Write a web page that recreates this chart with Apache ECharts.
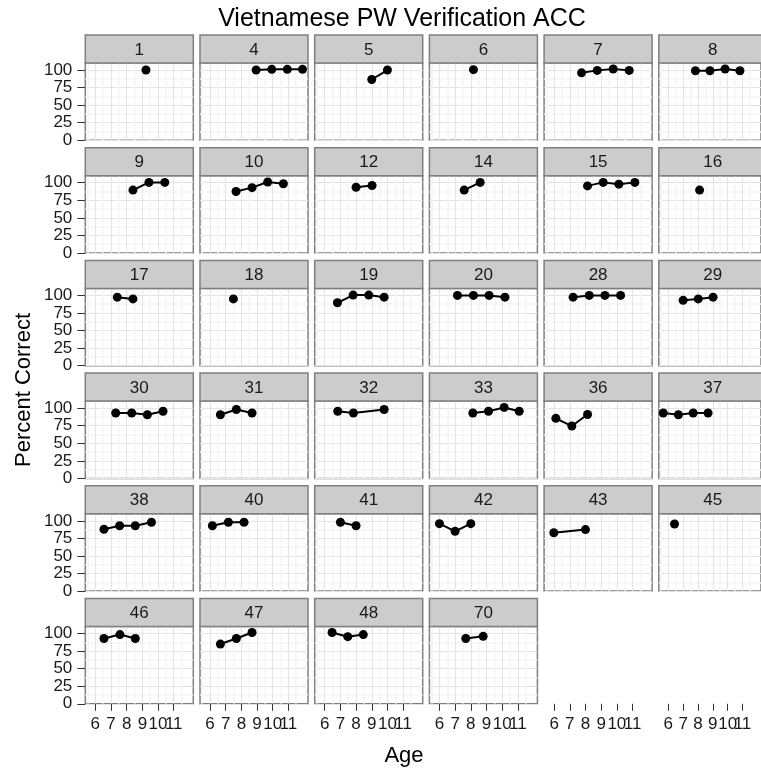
<!DOCTYPE html>
<html><head><meta charset="utf-8">
<script src="https://cdn.jsdelivr.net/npm/echarts@6/dist/echarts.min.js"></script>
<style>html,body{margin:0;padding:0;background:#fff}#c{width:761px;height:772px}</style>
</head><body><div id="c"></div>
<script>
// ---- data ----
const panelIds = ['1','4','5','6','7','8','9','10','12','14','15','16','17','18','19','20','28','29','30','31','32','33','36','37','38','40','41','42','43','45','46','47','48','70'];
const ages = [
  [9.23],
  [8.94, 9.94, 10.93, 11.90],
  [9.0, 10.0],
  [8.17],
  [7.75, 8.75, 9.77, 10.79],
  [7.83, 8.81, 9.83, 10.83],
  [8.40, 9.42, 10.43],
  [7.66, 8.68, 9.68, 10.68],
  [8.0, 9.02],
  [7.58, 8.60],
  [8.13, 9.13, 10.13, 11.15],
  [8.11],
  [7.40, 8.40],
  [7.49],
  [6.81, 7.81, 8.81, 9.79],
  [7.15, 8.17, 9.17, 10.18],
  [7.21, 8.24, 9.24, 10.24],
  [7.0, 8.02, 9.02],
  [7.30, 8.32, 9.32, 10.32],
  [6.66, 7.68, 8.68],
  [6.83, 7.83, 9.79],
  [8.13, 9.13, 10.13, 11.09],
  [6.11, 7.13, 8.13],
  [5.66, 6.68, 7.68, 8.68],
  [6.55, 7.55, 8.55, 9.58],
  [6.15, 7.17, 8.17],
  [7.0, 8.0],
  [6.0, 7.0, 8.0],
  [5.98, 8.0],
  [6.42],
  [6.55, 7.57, 8.55],
  [6.66, 7.68, 8.68],
  [6.47, 7.47, 8.46],
  [7.68, 8.79]
];
const percentCorrect = [
  [100],
  [100, 101, 101, 101],
  [86.5, 100],
  [100.5],
  [96, 99.5, 101.5, 99.5],
  [99, 99, 101.5, 99],
  [89.5, 100.5, 100.5],
  [87.5, 93, 101, 98.5],
  [93.5, 96],
  [89.5, 100.5],
  [95.5, 100.5, 98, 100.5],
  [89.5],
  [97.5, 95],
  [95],
  [89.5, 100.5, 100.5, 97.5],
  [100, 100, 100, 97.5],
  [97.5, 100, 100, 100],
  [93, 95, 97.5],
  [93, 93, 90.5, 95.5],
  [90.5, 98, 93],
  [95.5, 93, 98],
  [93, 95.5, 101, 95.5],
  [85.5, 74.5, 91],
  [93, 90.5, 93, 93],
  [88, 93, 93, 98],
  [93, 98, 98],
  [98, 93],
  [96, 85, 96],
  [83, 87.5],
  [95.5],
  [93, 98.5, 93],
  [85, 93, 101.5],
  [101.5, 95.5, 98.5],
  [93, 96]
];
const xTicks = [6, 7, 8, 9, 10, 11];
const xMinorTicks = [5.5, 6.5, 7.5, 8.5, 9.5, 10.5, 11.5];
const yTicks = [0, 25, 50, 75, 100];
const yMinorTicks = [12.5, 37.5, 62.5, 87.5];
const xRange = [5.36, 12.25];
const yRange = [0, 110];
const chartTitle = 'Vietnamese PW Verification ACC';
const xTitle = 'Age';
const yTitle = 'Percent Correct';

// ---- layout / style ----
const FONT = '"Liberation Sans", Arial, Helvetica, sans-serif';
const COLS = 6, col0 = 85.3, colStep = 114.7, plotW = 108;
const row0 = 35, rowStep = 112.7, stripH = 28, plotH = 77.3;
const nRows = Math.ceil(panelIds.length / COLS);
const txtCol = '#1a1a1a', borderCol = '#7f7f7f', majorCol = '#e3e3e3', minorCol = '#f4f4f4', tickCol = '#333';
// labels split over two axes so that the crowded "10" and "11" both stay visible (as in the original)
const xLabelsA = xTicks.slice(0, -1);
const xLabelsB = xTicks.slice(-1);

const grids = [], xAxes = [], yAxes = [], series = [], elements = [];

function labelStyle(show, values, margin) {
  return {show: show, customValues: values, margin: margin, fontSize: 17, color: txtCol, fontFamily: FONT,
    hideOverlap: false};
}

function addPanel(left, top, box, showX, showY) {
  const gi = grids.length;
  grids.push({left: left, top: top, width: plotW, height: plotH, show: box,
    backgroundColor: '#fff', borderColor: borderCol, borderWidth: 1.5, containLabel: false});
  xAxes.push({gridIndex: gi, type: 'value', min: xRange[0], max: xRange[1], position: 'bottom',
    axisLine: {show: false, onZero: false}, axisTick: {show: false, customValues: xMinorTicks},
    axisLabel: labelStyle(showX, xLabelsB, 12),
    splitLine: {show: box, lineStyle: {color: minorCol, width: 1.5}}});
  xAxes.push({gridIndex: gi, type: 'value', min: xRange[0], max: xRange[1], position: 'bottom',
    axisLine: {show: false, onZero: false},
    axisTick: {show: showX, customValues: xTicks, length: 7, lineStyle: {color: tickCol, width: 1}},
    axisLabel: labelStyle(showX, xLabelsA, 12),
    splitLine: {show: box, lineStyle: {color: majorCol, width: 1}}});
  yAxes.push({gridIndex: gi, type: 'value', min: yRange[0], max: yRange[1], position: 'right',
    axisLine: {show: false, onZero: false}, axisTick: {show: false, customValues: yMinorTicks},
    axisLabel: {show: false, customValues: yMinorTicks},
    splitLine: {show: box, lineStyle: {color: minorCol, width: 1.5}}});
  yAxes.push({gridIndex: gi, type: 'value', min: yRange[0], max: yRange[1], position: 'left',
    axisLine: {show: false, onZero: false},
    axisTick: {show: showY, customValues: yTicks, length: 8, lineStyle: {color: tickCol, width: 1}},
    axisLabel: labelStyle(showY, yTicks, 13),
    splitLine: {show: box, lineStyle: {color: majorCol, width: 1}}});
  return gi;
}

panelIds.forEach(function (id, i) {
  const r = Math.floor(i / COLS), c = i % COLS;
  const left = col0 + c * colStep;
  const stripTop = row0 + r * rowStep;
  const top = stripTop + stripH;
  const gi = addPanel(left, top, true, r === nRows - 1, c === 0);
  elements.push({type: 'rect', shape: {x: left, y: stripTop, width: plotW, height: stripH},
    style: {fill: '#cccccc', stroke: borderCol, lineWidth: 1.5}, z: 5});
  elements.push({type: 'text', x: left + plotW / 2, y: stripTop + stripH / 2 + 1, z: 6,
    style: {text: id, x: 0, y: 0, textAlign: 'center', textVerticalAlign: 'middle',
      font: '17px ' + FONT, fill: txtCol}});
  series.push({type: 'line', xAxisIndex: 2 * gi + 1, yAxisIndex: 2 * gi + 1,
    data: ages[i].map(function (a, k) { return [a, percentCorrect[i][k]]; }),
    symbol: 'circle', symbolSize: 9, showSymbol: true,
    itemStyle: {color: '#000'}, lineStyle: {color: '#000', width: 2},
    silent: true, clip: false});
});
// axis-only columns below the last row
for (let c = panelIds.length % COLS; c > 0 && c < COLS; c++) {
  const left = col0 + c * colStep;
  const top = row0 + (nRows - 1) * rowStep + stripH;
  addPanel(left, top, false, true, false);
}

elements.push({type: 'text', x: 402, y: 19, style: {text: chartTitle, x: 0, y: 0,
  textAlign: 'center', textVerticalAlign: 'middle', font: '25px ' + FONT, fill: '#000'}});
elements.push({type: 'text', x: 404, y: 756, style: {text: xTitle, x: 0, y: 0,
  textAlign: 'center', textVerticalAlign: 'middle', font: '22px ' + FONT, fill: '#000'}});
elements.push({type: 'text', x: 24, y: 390, rotation: Math.PI / 2, style: {text: yTitle, x: 0, y: 0,
  textAlign: 'center', textVerticalAlign: 'middle', font: '22px ' + FONT, fill: '#000'}});

const chart = echarts.init(document.getElementById('c'), null, {renderer: 'canvas'});
chart.setOption({
  animation: false,
  backgroundColor: '#fff',
  grid: grids, xAxis: xAxes, yAxis: yAxes, series: series,
  graphic: {elements: elements}
});
</script>
</body></html>
